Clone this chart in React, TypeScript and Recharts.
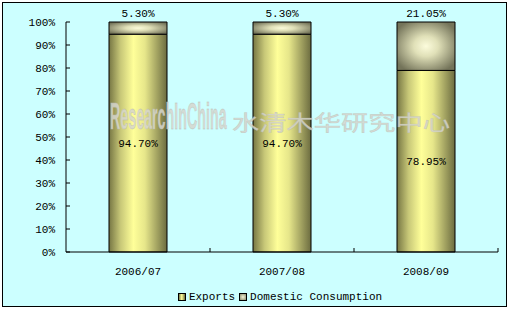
import { BarChart, Bar, XAxis, YAxis, Legend, LabelList } from "recharts";

const FONT = "'Liberation Mono', 'DejaVu Sans Mono', monospace";

const YEARS = ["2006/07", "2007/08", "2008/09"];
const EXPORTS = [94.7, 94.7, 78.95];
const DOMESTIC = [5.3, 5.3, 21.05];
const Y_TICKS = [0, 10, 20, 30, 40, 50, 60, 70, 80, 90, 100];
const SERIES_ORDER = ["Exports", "Domestic Consumption"];

const data = YEARS.map((year, i) => ({
  year,
  exports: EXPORTS[i],
  domestic: DOMESTIC[i],
}));

const SWATCH: Record<string, string> = {
  Exports: "linear-gradient(to right, #7a7a48, #ffff99 45%, #6e6e40)",
  "Domestic Consumption": "radial-gradient(#f4f4d8, #8a8a6c)",
};

const X_TICK_MARGIN = 15;

const pct = (v: any) => `${Number(v).toFixed(2)}%`;

// category label plus an Excel-style tick mark at the right edge of each band
function YearTick(props: any) {
  const { x, y, payload } = props;
  const half = payload?.offset ?? 0;
  const axisY = y - X_TICK_MARGIN;
  return (
    <g>
      {half > 0 && (
        <line x1={x + half} x2={x + half} y1={axisY} y2={axisY - 4} stroke="#000" />
      )}
      <text x={x} y={y} dy="0.71em" textAnchor="middle" fill="#000" fontSize={11} fontFamily={FONT}>
        {payload.value}
      </text>
    </g>
  );
}

function LegendBox(props: any) {
  const items = [...(props.payload || [])].sort(
    (a: any, b: any) => SERIES_ORDER.indexOf(a.value) - SERIES_ORDER.indexOf(b.value)
  );
  return (
    <div
      style={{
        display: "flex",
        justifyContent: "center",
        alignItems: "center",
        fontFamily: FONT,
        fontSize: 11,
        lineHeight: "14px",
        color: "#000",
      }}
    >
      {items.map((it: any) => (
        <span key={it.value} style={{ display: "flex", alignItems: "center", marginRight: 4 }}>
          <span
            style={{
              display: "inline-block",
              width: 6,
              height: 6,
              border: "1px solid #000",
              background: SWATCH[it.value],
              marginRight: 3,
            }}
          />
          {it.value}
        </span>
      ))}
    </div>
  );
}

export default function App() {
  return (
    <div style={{ position: "absolute", left: 0, top: 0, width: 509, height: 309, background: "#fff" }}>
      <div
        style={{
          position: "absolute",
          left: 2,
          top: 2,
          width: 505,
          height: 305,
          boxSizing: "border-box",
          border: "1px solid #000",
          background: "#ccffff",
        }}
      />
      <div style={{ position: "absolute", left: 0, top: 0 }}>
        <BarChart
          width={509}
          height={309}
          data={data}
          margin={{ top: 22, right: 11, bottom: 27, left: 0 }}
          barSize={58}
        >
          <defs>
            <linearGradient id="gExp" x1="0" y1="0" x2="1" y2="0">
              <stop offset="0%" stopColor="#767644" />
              <stop offset="20%" stopColor="#c8c878" />
              <stop offset="42%" stopColor="#ffff99" />
              <stop offset="62%" stopColor="#e6e68a" />
              <stop offset="100%" stopColor="#6c6c40" />
            </linearGradient>
            <radialGradient id="gDom" cx="50%" cy="50%" r="60%">
              <stop offset="0%" stopColor="#fcfcdc" />
              <stop offset="35%" stopColor="#e0e0b8" />
              <stop offset="100%" stopColor="#74745a" />
            </radialGradient>
          </defs>
          <XAxis
            dataKey="year"
            height={30}
            tickLine={false}
            tickSize={0}
            tickMargin={X_TICK_MARGIN}
            axisLine={{ stroke: "#000" }}
            tick={<YearTick />}
          />
          <YAxis
            width={66}
            domain={[0, 100]}
            ticks={Y_TICKS}
            tickFormatter={(v) => `${v}%`}
            axisLine={{ stroke: "#000" }}
            tickLine={{ stroke: "#000" }}
            tickSize={-4}
            tickMargin={15}
            tick={{ fill: "#000", fontSize: 11, fontFamily: FONT }}
            interval={0}
          />
          <Legend
            verticalAlign="middle"
            align="center"
            wrapperStyle={{ top: 290, left: 66, width: 432 }}
            content={<LegendBox />}
          />
          <Bar
            dataKey="exports"
            name="Exports"
            stackId="a"
            fill="url(#gExp)"
            stroke="#000"
            strokeWidth={1}
            isAnimationActive={false}
          >
            <LabelList
              dataKey="exports"
              position="center"
              formatter={pct}
              style={{ fill: "#000", fontSize: 11, fontFamily: FONT }}
            />
          </Bar>
          <Bar
            dataKey="domestic"
            name="Domestic Consumption"
            stackId="a"
            fill="url(#gDom)"
            stroke="#000"
            strokeWidth={1}
            isAnimationActive={false}
          >
            <LabelList
              dataKey="domestic"
              position="top"
              offset={5}
              formatter={pct}
              style={{ fill: "#000", fontSize: 11, fontFamily: FONT }}
            />
          </Bar>
        </BarChart>
      </div>
      {/* ResearchInChina watermark */}
      <svg
        width={509}
        height={309}
        style={{ position: "absolute", left: 0, top: 0, pointerEvents: "none" }}
      >
        <g fill="#d6d6ce" fillOpacity={0.85} stroke="#b8b8b0" strokeOpacity={0.5} strokeWidth={0.6}>
          <text
            x={0}
            y={0}
            transform="translate(110 129) scale(0.55 1.4)"
            fontSize={26}
            fontWeight="bold"
            fontFamily="'Liberation Sans', Arial, sans-serif"
            textLength={212}
            lengthAdjust="spacingAndGlyphs"
          >
            ResearchInChina
          </text>
          <text
            x={232}
            y={130}
            fontSize={21}
            fontFamily="'Noto Sans CJK SC', sans-serif"
            textLength={218}
            lengthAdjust="spacingAndGlyphs"
          >
            水清木华研究中心
          </text>
        </g>
      </svg>
    </div>
  );
}
